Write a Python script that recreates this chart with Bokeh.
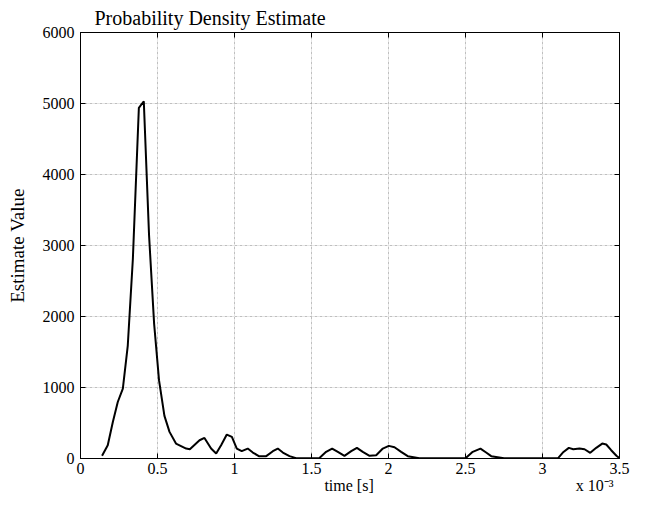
from bokeh.plotting import figure
from bokeh.models import Range1d, FixedTicker, LinearAxis, Grid, CustomJSTickFormatter
from bokeh.embed import file_html
from bokeh.resources import INLINE

# time in units of 1e-3 s
time_ms = [0.14, 0.177, 0.21, 0.242, 0.275, 0.307, 0.34, 0.379, 0.411, 0.445,
           0.478, 0.51, 0.545, 0.578, 0.62, 0.686, 0.71, 0.773, 0.805, 0.848,
           0.881, 0.913, 0.95, 0.983, 1.015, 1.047, 1.086, 1.119, 1.158, 1.206,
           1.249, 1.281, 1.314, 1.357, 1.4, 1.55, 1.595, 1.634, 1.671, 1.714,
           1.758, 1.795, 1.833, 1.877, 1.92, 1.963, 2.002, 2.039, 2.082, 2.125,
           2.2, 2.5, 2.547, 2.597, 2.634, 2.667, 2.75, 3.1, 3.132, 3.171,
           3.2, 3.24, 3.273, 3.31, 3.349, 3.388, 3.414, 3.446, 3.48, 3.5]
estimate = [40, 187, 515, 796, 983, 1591, 2809, 4939, 5032, 3150,
            1900, 1100, 600, 375, 210, 140, 130, 257, 290, 140,
            70, 187, 337, 304, 140, 103, 140, 84, 33, 33,
            103, 140, 84, 33, 5, 5, 94, 140, 94, 38,
            103, 150, 94, 38, 46, 140, 178, 159, 94, 33,
            3, 3, 94, 140, 84, 33, 3, 3, 84, 150,
            130, 140, 130, 80, 150, 210, 197, 117, 38, 5]

x_ticks = [0, 0.5, 1, 1.5, 2, 2.5, 3, 3.5]
x_tick_labels = ["0", "0.5", "1", "1.5", "2", "2.5", "3", "3.5"]
y_ticks = [0, 1000, 2000, 3000, 4000, 5000, 6000]
y_tick_labels = ["0", "1000", "2000", "3000", "4000", "5000", "6000"]

title_text = "Probability Density Estimate"
y_label = "Estimate Value"
# bottom texts: x-axis label and the exponent note, placed at these x positions
bottom_pos = [1.744, 3.338]
bottom_texts = ["time [s]", "x 10\u207b\u00b3"]
FONT = "Liberation Serif"

LOOKUP = """
for (let i = 0; i < tvals.length; i++) {
  if (Math.abs(tvals[i] - tick) < 1e-9) return tlabs[i];
}
return '';
"""

def fmt(tv, tl):
    return CustomJSTickFormatter(args=dict(tvals=tv, tlabs=tl), code=LOOKUP)

p = figure(width=646, height=508, output_backend="svg", toolbar_location=None,
           x_range=Range1d(0, 3.5), y_range=Range1d(0, 6000),
           min_border_left=80, min_border_right=27, min_border_top=32,
           min_border_bottom=50, x_axis_location=None, y_axis_location=None)
p.outline_line_color = "black"
p.outline_line_width = 1
p.background_fill_color = "white"
p.border_fill_color = "white"

p.title.text = title_text
p.title.align = "left"
p.title.offset = 14
p.title.text_font = FONT
p.title.text_font_style = "normal"
p.title.text_font_size = "20px"
p.title.text_color = "black"
p.title.standoff = 7

def style_axis(ax, tv, tl, show_labels):
    ax.ticker = FixedTicker(ticks=tv)
    ax.major_tick_in = 5
    ax.major_tick_out = 0
    ax.minor_tick_in = 0
    ax.minor_tick_out = 0
    ax.axis_line_color = "black"
    ax.major_tick_line_color = "black"
    ax.major_label_text_font = FONT
    ax.major_label_text_font_style = "normal"
    ax.major_label_text_color = "black"
    ax.major_label_text_font_size = "16px"
    if show_labels:
        ax.formatter = fmt(tv, tl)
    else:
        ax.formatter = CustomJSTickFormatter(code="return '';")
        ax.major_label_standoff = 0

xb = LinearAxis()
style_axis(xb, x_ticks, x_tick_labels, True)
xb.major_label_standoff = 4
p.add_layout(xb, "below")

xb2 = LinearAxis()
style_axis(xb2, bottom_pos, bottom_texts, True)
xb2.axis_line_color = None
xb2.major_tick_line_color = None
xb2.major_tick_in = 0
xb2.major_label_standoff = 0
p.add_layout(xb2, "below")

yl = LinearAxis()
style_axis(yl, y_ticks, y_tick_labels, True)
yl.major_label_standoff = 6
yl.axis_label = y_label
yl.axis_label_text_font = FONT
yl.axis_label_text_font_style = "normal"
yl.axis_label_text_font_size = "19px"
yl.axis_label_text_color = "black"
yl.axis_label_standoff = 12
p.add_layout(yl, "left")

xt = LinearAxis()
style_axis(xt, x_ticks, x_tick_labels, False)
p.add_layout(xt, "above")
yr = LinearAxis()
style_axis(yr, y_ticks, y_tick_labels, False)
p.add_layout(yr, "right")

gx = Grid(dimension=0, ticker=FixedTicker(ticks=x_ticks[1:-1]),
          grid_line_color="#999999", grid_line_dash="1 4", grid_line_width=1)
gy = Grid(dimension=1, ticker=FixedTicker(ticks=y_ticks[1:-1]),
          grid_line_color="#999999", grid_line_dash="1 4", grid_line_width=1)
p.add_layout(gx)
p.add_layout(gy)

p.line(time_ms, estimate, line_color="black", line_width=2)

open("out.html", "w").write(file_html(p, INLINE))
